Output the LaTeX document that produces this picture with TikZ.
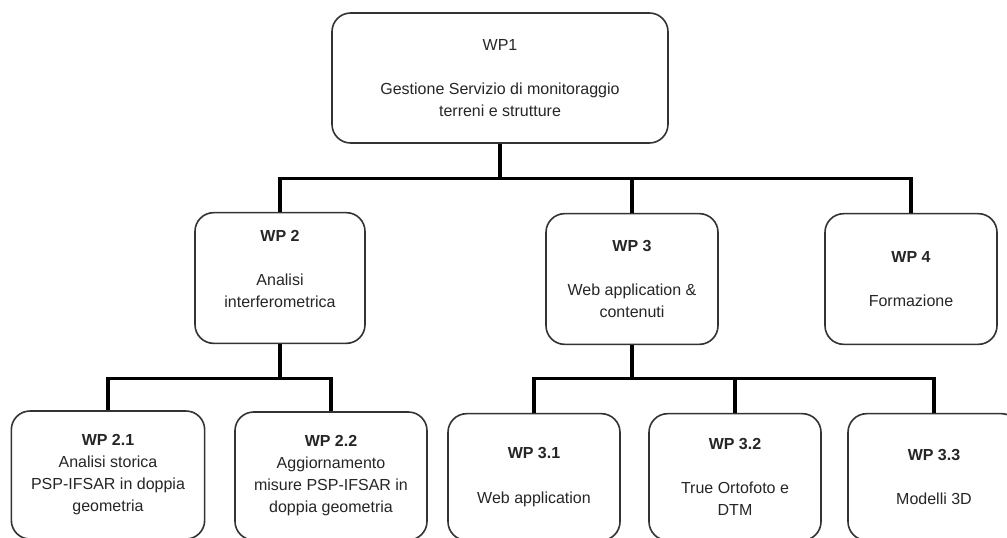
\documentclass[tikz,border=0pt]{standalone}
\usepackage{fontspec}
\setmainfont{Liberation Sans}
\usepackage{tikz}

\begin{document}
\begin{tikzpicture}[x=0.75pt,y=-0.75pt,
    wpbox/.style={draw=black!80,line width=1.2pt,rounded corners=14pt,align=center,
      font=\fontsize{12}{16.5}\selectfont,text=black!85,inner sep=2pt},
    small/.style={minimum width=129pt,minimum height=98pt},
    bus/.style={line width=2.4pt,black,line join=miter}]
    \fill[white] (0,0) rectangle (1007,537);
    \useasboundingbox (0,0) rectangle (1007,537);

    % work packages
    \node[wpbox,minimum width=252pt,minimum height=97.5pt] (wp1) at (500,78)
        {WP1\\[17pt]Gestione Servizio di monitoraggio\\terreni e strutture};
    \node[wpbox,small,minimum width=127.5pt] (wp2) at (280,278)
        {\textbf{WP 2}\\[17pt]Analisi\\interferometrica\\[-3pt]\mbox{}};
    \node[wpbox,small] (wp3) at (632,279)
        {\textbf{WP 3}\\[17pt]Web application \&\\contenuti};
    \node[wpbox,small] (wp4) at (911,279)
        {\textbf{WP 4}\\[17pt]Formazione};

    % sub packages
    \node[wpbox,minimum width=145pt,minimum height=96pt] (wp21) at (108,475)
        {\textbf{WP 2.1}\\Analisi storica\\PSP-IFSAR in doppia\\geometria};
    \node[wpbox,minimum width=144pt,minimum height=96pt] (wp22) at (331,476)
        {\textbf{WP 2.2}\\Aggiornamento\\misure PSP-IFSAR in\\doppia geometria};
    \node[wpbox,small,minimum height=95pt] (wp31) at (534,477)
        {\textbf{WP 3.1}\\[17pt]Web application};
    \node[wpbox,small,minimum height=95pt] (wp32) at (735,477)
        {\textbf{WP 3.2}\\[17pt]True Ortofoto e\\DTM};
    \node[wpbox,small,minimum height=95pt] (wp33) at (934,477)
        {\textbf{WP 3.3}\\[17pt]Modelli 3D};

    % connectors
    \draw[bus] (wp1.south) -- ++(0,35) coordinate (b1);
    \draw[bus] (wp2.north) |- (b1) -| (wp4.north);
    \draw[bus] (wp3.north) -- (wp3.north |- b1);

    \draw[bus] (wp2.south) -- ++(0,34) coordinate (b2);
    \draw[bus] (wp21.north) |- (b2) -| (wp22.north);

    \draw[bus] (wp3.south) -- ++(0,33) coordinate (b3);
    \draw[bus] (wp31.north) |- (b3) -| (wp33.north);
    \draw[bus] (wp32.north) -- (wp32.north |- b3);
\end{tikzpicture}
\end{document}
